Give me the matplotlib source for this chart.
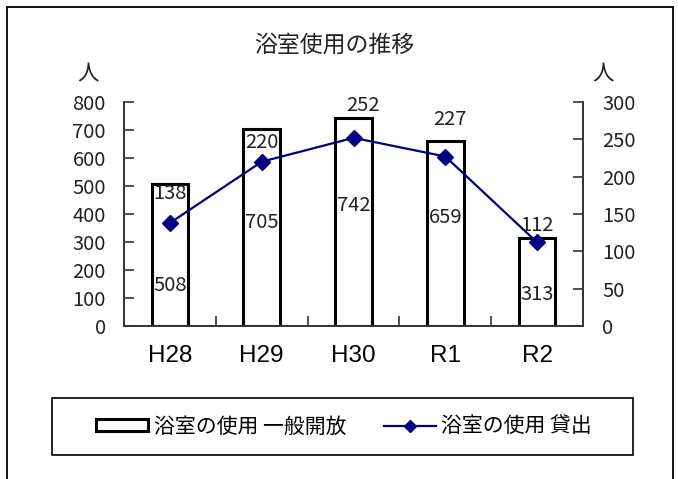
import matplotlib
matplotlib.use("Agg")
import matplotlib.pyplot as plt
from matplotlib.patches import Rectangle
import numpy as np

plt.rcParams['font.family'] = ['Noto Sans CJK JP', 'DejaVu Sans']

# --- data ---
categories = ["H28", "H29", "H30", "R1", "R2"]
general_open = [508, 705, 742, 659, 313]      # 浴室の使用 一般開放 (left axis)
rental = [138, 220, 252, 227, 112]            # 浴室の使用 貸出 (right axis)

# label placement (left-axis units for bars, right-axis units for line)
bar_label_y = [146, 368, 432, 389, 111]
line_label_y = [178, 246, 295, 277, 135]
line_label_dx = [0, 0, 0.1, 0.05, 0]

left_ticks = list(range(0, 801, 100))
right_ticks = list(range(0, 301, 50))

fig = plt.figure(figsize=(6.78, 4.79), dpi=100)
ax = fig.add_axes([124 / 678, 1 - 326 / 479, (583 - 124) / 678, (326 - 102) / 479])
ax2 = ax.twinx()

x = np.arange(len(categories))
ax.bar(x, general_open, width=0.4, color="white", edgecolor="black",
       linewidth=2.2, zorder=2, label="浴室の使用 一般開放")
line, = ax2.plot(x, rental, color="#000080", linewidth=1.6, marker="D",
                 markersize=8, label="浴室の使用 貸出", zorder=3)

ax.set_xlim(-0.5, len(categories) - 0.5)
ax.set_ylim(0, 800)
ax2.set_ylim(0, 300)
ax.set_yticks(left_ticks)
ax2.set_yticks(right_ticks)

spine_color = "#333333"
for a in (ax, ax2):
    for s in a.spines.values():
        s.set_color(spine_color)
        s.set_linewidth(1.2)
    a.spines["top"].set_visible(False)

ax.tick_params(axis="y", direction="in", length=7, width=1.2, color=spine_color,
               pad=13, labelsize=14.5, labelcolor="#222222")
ax2.tick_params(axis="y", direction="in", length=7, width=1.2, color=spine_color,
                pad=14, labelsize=14.5, labelcolor="#222222")

ax.set_xticks(x)
ax.set_xticklabels(categories, fontsize=17.5, family="Liberation Sans")
ax.set_xticks(np.arange(0.5, len(categories) - 1, 1.0), minor=True)
ax.tick_params(axis="x", which="major", length=0, pad=14)
ax.tick_params(axis="x", which="minor", direction="in", length=7, width=1.2,
               color=spine_color)

for xi, v, yl in zip(x, general_open, bar_label_y):
    ax.text(xi, yl, str(v), ha="center", va="center", fontsize=14.5,
            color="#222222", zorder=4)
for xi, v, yl, dx in zip(x, rental, line_label_y, line_label_dx):
    ax2.text(xi + dx, yl, str(v), ha="center", va="center", fontsize=14.5,
             color="#222222", zorder=4)

# title and unit labels
fig.text(334 / 678, 1 - 45 / 479, "浴室使用の推移", ha="center", va="center",
         fontsize=16.5, color="#222222")
fig.text(88 / 678, 1 - 73 / 479, "人", ha="center", va="center",
         fontsize=15.5, color="#222222")
fig.text(603 / 678, 1 - 73 / 479, "人", ha="center", va="center",
         fontsize=15.5, color="#222222")

# legend with its own frame
fig.patches.append(Rectangle((52 / 678, 1 - 455 / 479), (633 - 52) / 678,
                             (455 - 398) / 479, transform=fig.transFigure,
                             facecolor="white", edgecolor="black", linewidth=1.2))
handles = [ax.patches[0], line]
labels = ["浴室の使用 一般開放", "浴室の使用 貸出"]
leg = fig.legend(handles, labels, loc="center",
                 bbox_to_anchor=(344 / 678, 1 - 426.5 / 479), ncol=2,
                 frameon=False, fontsize=15, handlelength=2.5,
                 handleheight=0.5, handletextpad=0.25, columnspacing=1.8,
                 markerscale=0.8)

# outer chart frame
fig.patches.append(Rectangle((7 / 678, -0.05), (673 - 7) / 678, 1.05 - 7 / 479,
                             transform=fig.transFigure, facecolor="none",
                             edgecolor="black", linewidth=1.3))

fig.savefig("out.png", dpi=100)
